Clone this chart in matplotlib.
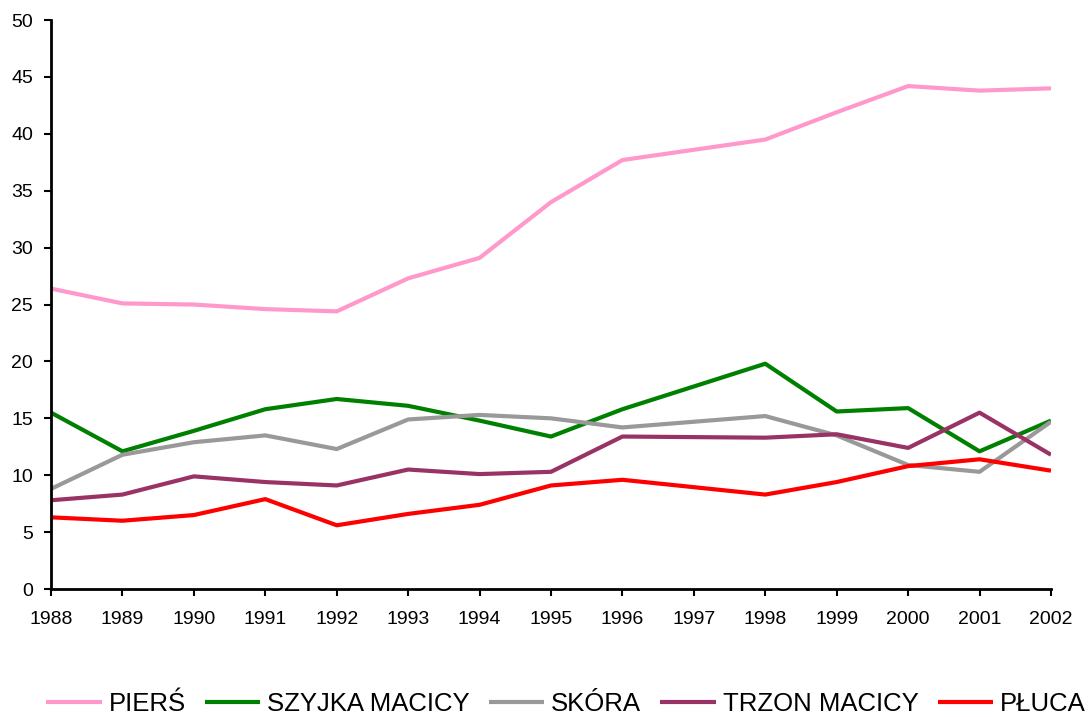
import matplotlib.pyplot as plt
import numpy as np

plt.rcParams['font.family'] = ['Liberation Sans', 'DejaVu Sans']

# years on the category axis; 1997 has no data and the lines run across it
years = ['1988', '1989', '1990', '1991', '1992', '1993', '1994', '1995',
         '1996', '1997', '1998', '1999', '2000', '2001', '2002']

piers = [26.4, 25.1, 25.0, 24.6, 24.4, 27.3, 29.1, 34.0, 37.7, np.nan,
         39.5, 41.9, 44.2, 43.8, 44.0]
szyjka = [15.5, 12.1, 13.9, 15.8, 16.7, 16.1, 14.8, 13.4, 15.8, np.nan,
          19.8, 15.6, 15.9, 12.1, 14.8]
skora = [8.8, 11.8, 12.9, 13.5, 12.3, 14.9, 15.3, 15.0, 14.2, np.nan,
         15.2, 13.5, 10.9, 10.3, 14.7]
trzon = [7.8, 8.3, 9.9, 9.4, 9.1, 10.5, 10.1, 10.3, 13.4, np.nan,
         13.3, 13.6, 12.4, 15.5, 11.8]
pluca = [6.3, 6.0, 6.5, 7.9, 5.6, 6.6, 7.4, 9.1, 9.6, np.nan,
         8.3, 9.4, 10.8, 11.4, 10.4]

series = [
    ('PIERŚ', piers, '#FF99CC'),
    ('SZYJKA MACICY', szyjka, '#008000'),
    ('SKÓRA', skora, '#999999'),
    ('TRZON MACICY', trzon, '#993366'),
    ('PŁUCA', pluca, '#FF0000'),
]

fig = plt.figure(figsize=(10.9, 7.17), dpi=100)
ax = fig.add_axes([0.0468, 0.1785, 0.9174, 0.7935])

x = np.arange(len(years))
for name, vals, color in series:
    v = np.array(vals, dtype=float)
    ok = ~np.isnan(v)
    ax.plot(x[ok], v[ok], color=color, lw=3, label=name, solid_capstyle='butt')

ax.set_xlim(0, len(years) - 1)
ax.set_ylim(0, 50)
ax.set_yticks(np.arange(0, 51, 5))
ax.set_xticks(x)
ax.set_xticklabels(years)
ax.tick_params(axis='both', direction='out', length=5, width=1.5,
               labelsize=14, color='black')
ax.tick_params(axis='x', pad=11)
ax.tick_params(axis='y', pad=8)
for side in ['top', 'right']:
    ax.spines[side].set_visible(False)
for side in ['left', 'bottom']:
    ax.spines[side].set_linewidth(2)

leg = fig.legend(loc='center', bbox_to_anchor=(566 / 1090, 13 / 717),
                 bbox_transform=fig.transFigure, ncol=5, frameon=False,
                 fontsize=18.5, handlelength=2.15, handletextpad=0.27,
                 columnspacing=0.75, borderpad=0, borderaxespad=0)
for line in leg.get_lines():
    line.set_linewidth(3)

fig.savefig('out.png', dpi=100)
